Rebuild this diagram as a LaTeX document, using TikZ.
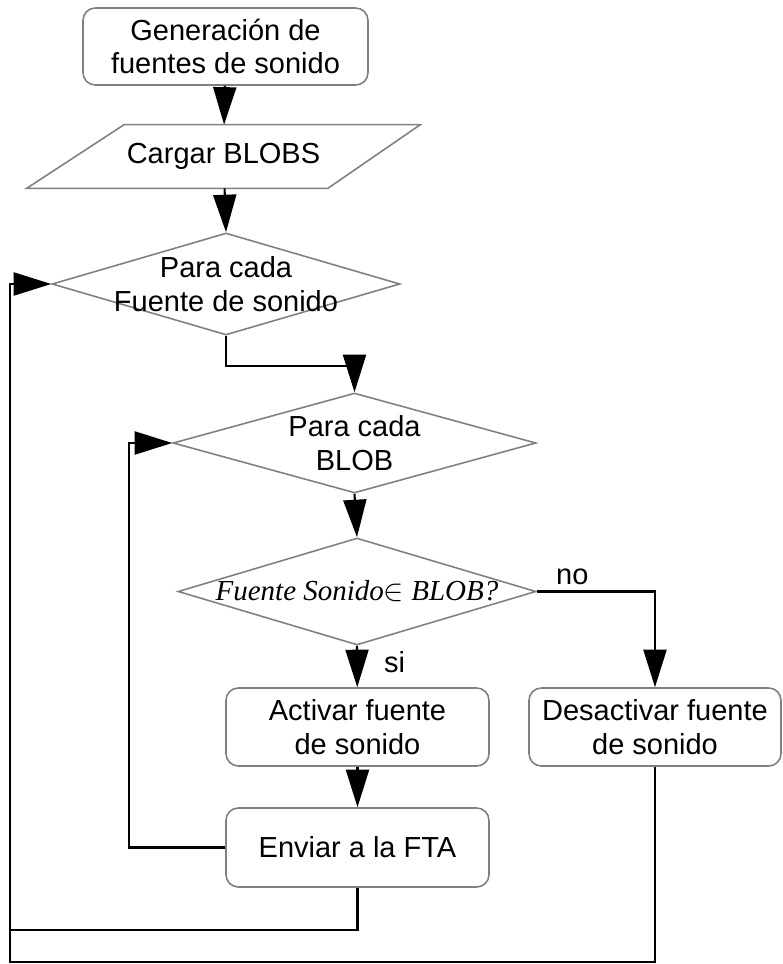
\documentclass[tikz,border=0pt]{standalone}
\usepackage{fontspec}
\setmainfont{Liberation Sans}
\newfontfamily\condserif{Liberation Serif}
\usepackage{tikz}
\usetikzlibrary{arrows.meta,positioning,shapes.geometric}

\begin{document}
\begin{tikzpicture}[
  box/.style={draw=gray, line width=0.9pt, rounded corners=7pt, align=center, font=\fontsize{16.5}{19}\selectfont, minimum width=5.26cm, minimum height=1.56cm},
  dec/.style={draw=gray, line width=0.9pt, diamond, inner sep=0pt},
  txt/.style={align=center, font=\fontsize{16.5}{19}\selectfont},
  arr/.style={-{Triangle[length=7.5mm, width=4.6mm]}, line width=1.2pt},
  lin/.style={line width=1.2pt}
]
\useasboundingbox (0,0) rectangle (15.64,-19.28);
\node[box, minimum width=5.7cm, minimum height=1.54cm] (gen) at (4.51,-0.93) {Generación de\\fuentes de sonido};
\node[txt, minimum width=7.86cm, minimum height=1.26cm] (load) at (4.47,-3.13) {Cargar BLOBS};
\draw[gray, line width=0.9pt] ([xshift=1.95cm]load.north west) -- (load.north east) -- ([xshift=-1.85cm]load.south east) -- (load.south west) -- cycle;
\node[dec, minimum width=6.96cm, minimum height=2.04cm] (d1) at (4.52,-5.68) {};
\node[txt] (d1t) at (d1) {Para cada\\Fuente de sonido};
\node[dec, minimum width=7.26cm, minimum height=2.0cm] (d2) at (7.09,-8.86) {};
\node[txt] (d2t) at (d2) {Para cada\\BLOB};
\node[dec, minimum width=7.16cm, minimum height=2.14cm] (d3) at (7.14,-11.83) {};
\node[txt, font=\fontsize{16.5}{19}\selectfont\condserif\itshape] (d3t) at (d3) {Fuente Sonido$\in$ BLOB?};
\node[box] (act) at (7.15,-14.54) {Activar fuente\\de sonido};
\node[box, minimum width=5.04cm] (des) at (13.1,-14.54) {Desactivar fuente\\de sonido};
\node[box, minimum height=1.58cm] (env) at (7.15,-16.95) {Enviar a la FTA};
\coordinate (lb) at (0.2,-18.6);
\coordinate (lc) at (0.2,-19.24);

\draw[arr] (gen) -- (load);
\draw[arr] (load) -- (d1.north);
\draw[arr] (d1.south) -- ++(0,-0.6) -| (d2.north);
\draw[arr] (d2.south) -- (d3.north);
\draw[arr] (d3.south) -- node[right, txt, pos=0.4, xshift=0.4cm]{si} (act);
\draw[arr] (d3.east) -| node[above, txt, pos=0.15]{no} (des.north);
\draw[arr] (act) -- (env);
\draw[arr] (env.west) -- ++(-1.92,0) |- (d2.west);
\draw[arr] (env.south) |- (lb) |- (d1.west);
\draw[lin] (des.south) |- (lc) -- (lb);
\end{tikzpicture}
\end{document}
